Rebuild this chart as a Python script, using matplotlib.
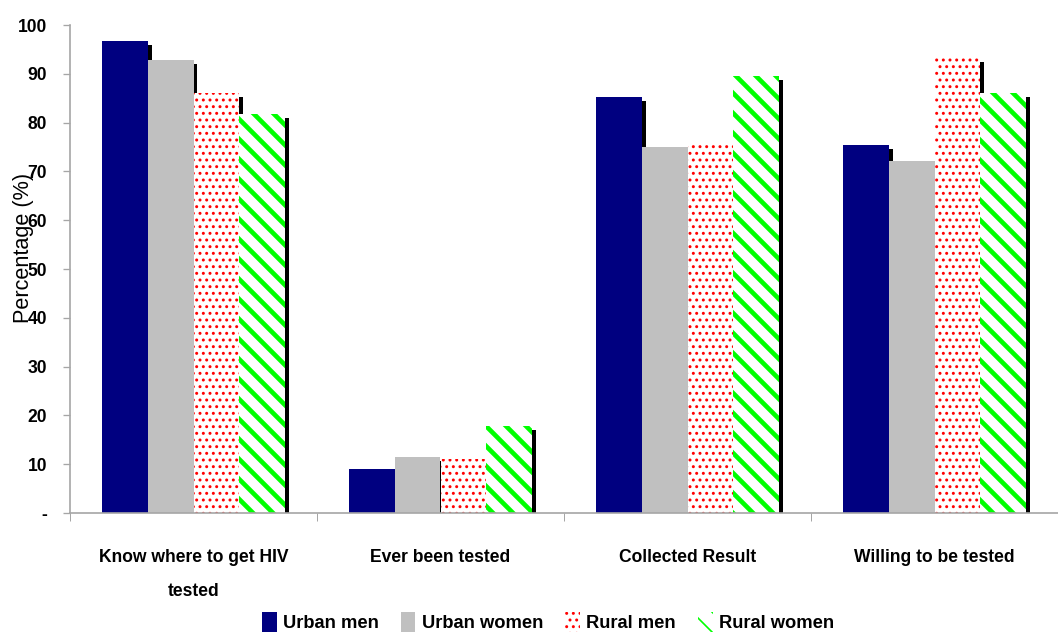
import matplotlib.pyplot as plt
import numpy as np

# data
categories = ['Know where to get HIV\ntested', 'Ever been tested',
              'Collected Result', 'Willing to be tested']
series_names = ['Urban men', 'Urban women', 'Rural men', 'Rural women']
urban_men = [96.7, 9.0, 85.2, 75.4]
urban_women = [92.8, 11.5, 75.0, 72.1]
rural_men = [86.1, 11.0, 75.8, 93.2]
rural_women = [81.8, 17.8, 89.5, 86.1]
yticks = [0, 10, 20, 30, 40, 50, 60, 70, 80, 90, 100]
ytick_labels = ['-', '10', '20', '30', '40', '50', '60', '70', '80', '90', '100']

plt.rcParams['font.family'] = ['Liberation Sans Narrow', 'Liberation Sans', 'DejaVu Sans']

DPI = 120
fig = plt.figure(figsize=(1058 / DPI, 634 / DPI), dpi=DPI)
ax = fig.add_axes([70 / 1058, 121 / 634, 988 / 1058, 488 / 634])

styles = [
    dict(color='#000080'),
    dict(color='#c0c0c0'),
    dict(facecolor='white', edgecolor='red', hatch='...'),
    dict(facecolor='white', edgecolor='#00ff00', hatch='\\\\'),
]
values = [urban_men, urban_women, rural_men, rural_women]

x = np.arange(len(categories))
w = 0.185
dx = 4 / 251   # shadow offset, 4px right
dy = 0.8       # 4px down

# shadows first so the next bar covers them
for i, vals in enumerate(values):
    offs = (i - 1.5) * w
    ax.bar(x + offs + dx, np.array(vals) - dy, w, color='black', linewidth=0, zorder=1)

for i, vals in enumerate(values):
    offs = (i - 1.5) * w
    if i == 3:
        with plt.rc_context({'hatch.linewidth': 2.8}):
            bars = ax.bar(x + offs, vals, w, linewidth=0, zorder=2,
                          label=series_names[i], **styles[i])
        for p in bars:
            if hasattr(p, 'set_hatch_linewidth'):
                p.set_hatch_linewidth(2.8)
    else:
        ax.bar(x + offs, vals, w, linewidth=0, zorder=2,
               label=series_names[i], **styles[i])

ax.set_xlim(-0.5, -0.5 + 988 / 251)
ax.set_ylim(0, 100)

for s in ['top', 'right']:
    ax.spines[s].set_visible(False)
for s in ['left', 'bottom']:
    ax.spines[s].set_color('#a6a6a6')
    ax.spines[s].set_linewidth(1)

ax.set_yticks(yticks)
ax.set_yticklabels(ytick_labels, fontweight='bold', fontsize=10.5)
ax.tick_params(axis='y', length=4.2, color='#a6a6a6', pad=9.5)

ax.set_xticks(x)
ax.set_xticklabels(categories, fontweight='bold', fontsize=10.5, linespacing=2.35)
ax.set_xticks(np.arange(-0.5, 4, 1), minor=True)
ax.tick_params(axis='x', which='major', length=0, pad=21.5)
ax.tick_params(axis='x', which='minor', length=5, color='#a6a6a6')

fig.text(24 / 1058, 1 - 248 / 634, 'Percentage (%)', rotation=90,
         ha='center', va='center', fontsize=13)

fig.legend(loc='center', bbox_to_anchor=(548 / 1058, 1 - 622 / 634), ncol=4,
           frameon=False, handlelength=0.8, handleheight=1.35, handletextpad=0.35,
           columnspacing=1.2, prop={'weight': 'bold', 'size': 11})

fig.savefig('out.png', dpi=DPI)
